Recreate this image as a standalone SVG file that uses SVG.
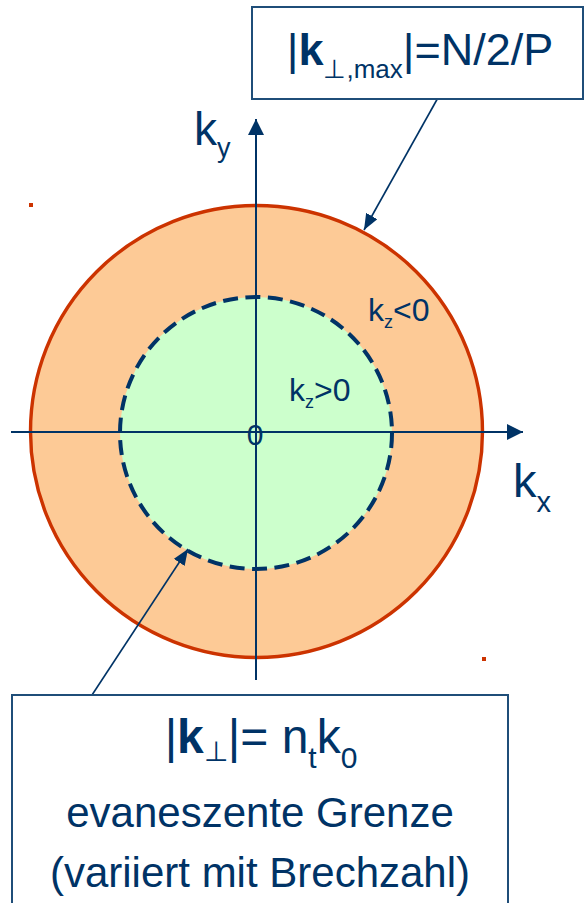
<svg xmlns="http://www.w3.org/2000/svg" width="584" height="903" viewBox="0 0 584 903">
<style>
.txt{font-family:"Liberation Sans",Arial,sans-serif;fill:#003366}
.axis{stroke:#003366;stroke-width:2;fill:none}
.leader{stroke:#003366;stroke-width:1.6;fill:none}
.box{fill:#ffffff;stroke:#1f4e79;stroke-width:2}
.dot{fill:#cc3300}
</style>
<defs>
<marker id="axhead" markerUnits="userSpaceOnUse" markerWidth="17" markerHeight="17" refX="16" refY="8" orient="auto">
<path d="M0,0 L16,8 L0,16 z" fill="#003366"/>
</marker>
<marker id="lhead" markerUnits="userSpaceOnUse" markerWidth="17" markerHeight="14" refX="16" refY="6.5" orient="auto">
<path d="M0,0 L16,6.5 L0,13 z" fill="#003366"/>
</marker>
</defs>
<g id="outer-region">
<circle cx="256.5" cy="431.5" r="226" fill="#fdca96" stroke="#cc3300" stroke-width="3.4"/>
</g>
<g id="inner-region">
<circle cx="256" cy="433" r="136" fill="#ccffcc" stroke="#003366" stroke-width="4" stroke-dasharray="15 7.5"/>
</g>
<g id="dots">
<rect class="dot" x="29" y="203" width="4" height="4"/>
<rect class="dot" x="482" y="657" width="4" height="4"/>
</g>
<g id="connectors">
<line class="axis" x1="11" y1="432" x2="523" y2="432" marker-end="url(#axhead)"/>
<line class="axis" x1="256" y1="680" x2="256" y2="119" marker-end="url(#axhead)"/>
<line class="leader" x1="444" y1="87" x2="364" y2="230" marker-end="url(#lhead)"/>
<line class="leader" x1="92" y1="695" x2="188" y2="549" marker-end="url(#lhead)"/>
</g>
<g id="axis-labels">
<text class="txt" x="194" y="145" font-size="46">k<tspan font-size="27" dy="12">y</tspan></text>
<text class="txt" x="513" y="497" font-size="47">k<tspan font-size="29" dy="15">x</tspan></text>
<text class="txt" x="255" y="445" font-size="30" text-anchor="middle">0</text>
<text class="txt" x="368" y="321" font-size="32">k<tspan font-size="18" dy="7">z</tspan><tspan dy="-7">&lt;0</tspan></text>
<text class="txt" x="289" y="401" font-size="32">k<tspan font-size="18" dy="7">z</tspan><tspan dy="-7">&gt;0</tspan></text>
</g>
<g id="max-box">
<rect class="box" x="252" y="7" width="331" height="92"/>
<text class="txt" x="420" y="65" font-size="45" text-anchor="middle">|<tspan font-weight="bold">k</tspan><tspan font-size="26" dy="13">⊥,max</tspan><tspan dy="-13">|=N/2/P</tspan></text>
</g>
<g id="evanescent-box">
<rect class="box" x="12" y="695" width="496" height="220"/>
<text class="txt" x="261" y="753" font-size="48" text-anchor="middle">|<tspan font-weight="bold">k</tspan><tspan font-size="28" dy="8">⊥</tspan><tspan dy="-8">|= n</tspan><tspan font-size="30" dy="15">t</tspan><tspan dy="-15">k</tspan><tspan font-size="30" dy="15">0</tspan></text>
<text class="txt" x="260" y="827" font-size="42" text-anchor="middle">evaneszente Grenze</text>
<text class="txt" x="260" y="887" font-size="42" text-anchor="middle">(variiert mit Brechzahl)</text>
</g>
</svg>
